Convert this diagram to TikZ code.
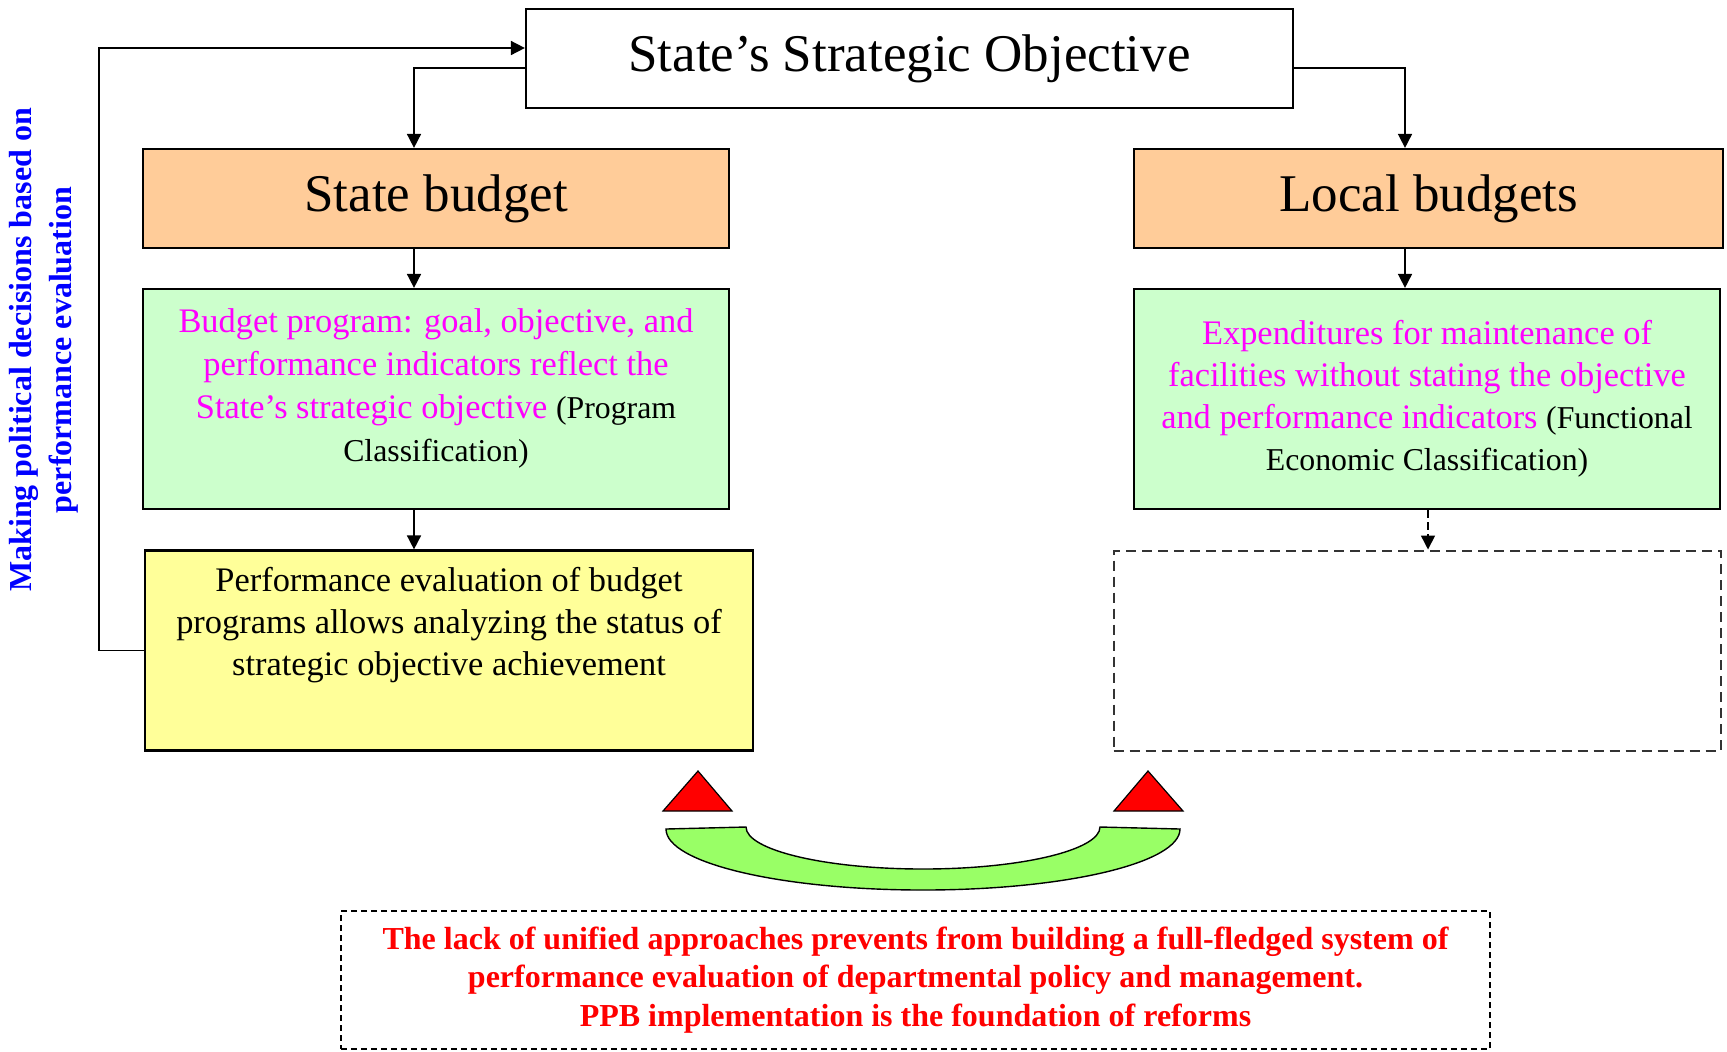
\documentclass[tikz,border=0pt]{standalone}
\usepackage{fontspec}
\setmainfont{Liberation Serif}
\usetikzlibrary{arrows.meta}
\definecolor{budgetorange}{HTML}{FFCC99}
\definecolor{programgreen}{HTML}{CCFFCC}
\definecolor{evalyellow}{HTML}{FFFF99}
\definecolor{bridgegreen}{HTML}{99FF66}
\definecolor{dashgray}{HTML}{333333}
\definecolor{goalpink}{HTML}{FF00FF}
\tikzset{
  box/.style={draw, line width=1.1pt, inner sep=0pt, align=center},
  headbox/.style={box, minimum height=49.5pt, font=\fontsize{26.5}{30}\selectfont},
  textbox/.style={box, font=\fontsize{17.2}{21}\selectfont},
  dashbox/.style={draw=dashgray, line width=1pt, dash pattern=on 5pt off 3pt, inner sep=0pt, align=center},
  conn/.style={line width=0.8pt, -{Triangle[length=7pt,width=7pt]}},
  hump/.style={fill=red, draw=black, line width=0.6pt}
}
\newcommand{\note}[1]{{\fontsize{15.9}{21}\selectfont #1}}

\begin{document}
\begin{tikzpicture}[x=0.5pt,y=-0.5pt]
	\useasboundingbox (0,0) rectangle (1727,1051);

	% boxes
	\node[headbox, fill=white, minimum width=383.5pt] (objective) at (909.5,58.5) {State’s Strategic Objective};
	\node[headbox, fill=budgetorange, minimum width=293pt] (statebudget) at (436,198.5) {State budget};
	\node[headbox, fill=budgetorange, minimum width=294.5pt] (localbudgets) at (1428.5,198.5) {Local budgets};

	\node[box, fill=programgreen, minimum width=293pt, minimum height=110pt] (program) at (436,399) {};
	\node[align=center, inner sep=0pt, font=\fontsize{17.2}{21.5}\selectfont] (programtext) at (436,388)
		{\textcolor{goalpink}{Budget program: goal, objective, and}\\
		 \textcolor{goalpink}{performance indicators reflect the}\\
		 \textcolor{goalpink}{State’s strategic objective} \note{(Program}\\
		 \note{Classification)}};
	\node[textbox, fill=programgreen, minimum width=293pt, minimum height=110pt] (expenditures) at (1427,399)
		{\textcolor{goalpink}{Expenditures for maintenance of}\\
		 \textcolor{goalpink}{facilities without stating the objective}\\
		 \textcolor{goalpink}{and performance indicators} \note{(Functional}\\
		 \note{Economic Classification)}};

	\node[box, fill=evalyellow, minimum width=304pt, minimum height=100pt] (evaluation) at (449,650.5) {};
	\node[align=center, inner sep=0pt, font=\fontsize{17.2}{21}\selectfont] (evaltext) at (449,625)
		{Performance evaluation of budget\\
		 programs allows analyzing the status of\\
		 strategic objective achievement};
	\node[dashbox, minimum width=303.5pt, minimum height=100pt] (empty) at (1417,650.5) {};

	% side label
	\node[rotate=90, align=center, inner sep=0pt, text=blue, font=\bfseries\fontsize{16}{20}\selectfont] (decisions) at (44,350)
		{Making political decisions based on\\performance evaluation};

	% connectors
	\coordinate (splitrow) at (0,68);
	\coordinate (backrow) at (0,48);
	\coordinate (backcol) at (99,0);
	\coordinate (leftcol) at (414,0);
	\coordinate (rightcol) at (1405,0);
	\coordinate (dashcol) at (1428,0);

	\draw[conn] (objective.west |- splitrow) -| (statebudget.north -| leftcol);
	\draw[conn] (objective.east |- splitrow) -| (localbudgets.north -| rightcol);
	\draw[conn] (statebudget.south -| leftcol) -- (program.north -| leftcol);
	\draw[conn] (program.south -| leftcol) -- (evaluation.north -| leftcol);
	\draw[conn] (localbudgets.south -| rightcol) -- (expenditures.north -| rightcol);
	\draw[conn, dash pattern=on 4pt off 2pt] (expenditures.south -| dashcol) -- (empty.north -| dashcol);
	\draw[conn] (evaluation.west) -| (backcol |- backrow) -- (objective.west |- backrow);

	% bridge
	\filldraw[hump] (663,811) -- (698,771) -- (732,811) -- cycle;
	\filldraw[hump] (1114,811) -- (1148,771) -- (1183,811) -- cycle;
	\filldraw[fill=bridgegreen, draw=black, line width=0.7pt]
		(666,829) -- (746,827)
		.. controls (746,850) and (825,869) .. (923,869)
		.. controls (1021,869) and (1100,850) .. (1100,827)
		-- (1180,829)
		.. controls (1180,863) and (1065,890) .. (923,890)
		.. controls (781,890) and (666,863) .. (666,829) -- cycle;

	% bottom note
	\node[dashbox, draw=black, line width=0.8pt, dash pattern=on 3pt off 2pt, minimum width=574.5pt, minimum height=69pt,
		text=red, font=\bfseries\fontsize{16}{19.25}\selectfont] (lack) at (915.5,980)
		{The lack of unified approaches prevents from building a full-fledged system of\\
		 performance evaluation of departmental policy and management.\\
		 PPB implementation is the foundation of reforms};
\end{tikzpicture}
\end{document}
